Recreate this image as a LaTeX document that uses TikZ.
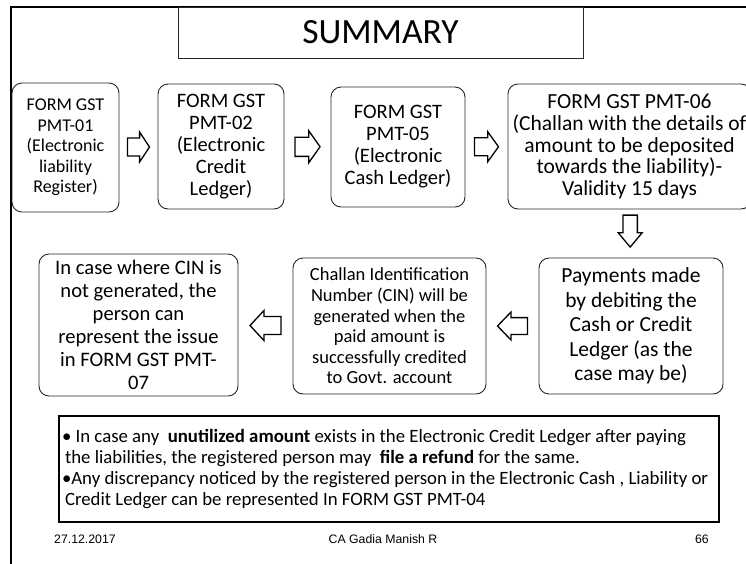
\documentclass[tikz,border=0pt]{standalone}
\usepackage{fontspec}
\setmainfont{Carlito}
\newfontfamily\footfont{Liberation Sans}
\usetikzlibrary{calc}
\tikzset{
  box/.style={draw=black!85, line width=0.9pt, rounded corners=10pt, align=center, inner sep=0pt},
  arrowline/.style={draw=black, line width=1.3pt, fill=white, line join=miter},
  footer/.style={inner sep=0pt, font=\footfont\fontsize{12.3}{14}\selectfont},
  pics/blockarrow/.style 2 args={code={
    \draw[arrowline] (-#1/2,-0.3*#2) -- (0.05*#1,-0.3*#2) -- (0.05*#1,-#2/2) -- (#1/2,0)
      -- (0.05*#1,#2/2) -- (0.05*#1,0.3*#2) -- (-#1/2,0.3*#2) -- cycle;
  }},
}
\begin{document}
\begin{tikzpicture}[x=1pt,y=-1pt]
\useasboundingbox (0,0) rectangle (746,563);
\fill[white] (0,0) rectangle (746,563);

% slide frame (left and top edges)
\draw[line width=2.4pt] (11,575) -- (11,7) -- (760,7);

% title
\node[draw=black!85, line width=0.9pt, minimum width=405pt, minimum height=51pt, inner sep=0pt,
      font=\fontsize{35.5}{40}\selectfont] (title) at (380.5,32.5) {SUMMARY};

% upper row of steps
\node[box, minimum width=107pt, minimum height=129pt, font=\fontsize{18}{20.5}\selectfont]
  (b1) at (65.5,147.5) {FORM GST\\PMT-01\\(Electronic\\liability\\Register)};
\node[box, minimum width=126pt, minimum height=125pt, font=\fontsize{20.5}{22}\selectfont]
  (b2) at (221,146.5) {FORM GST\\PMT-02\\(Electronic\\Credit\\Ledger)};
\node[box, minimum width=134pt, minimum height=120pt, font=\fontsize{20.5}{22}\selectfont]
  (b3) at (398,147) {FORM GST\\PMT-05\\(Electronic\\Cash Ledger)};
\node[box, minimum width=243pt, minimum height=125pt, font=\fontsize{21.5}{21.7}\selectfont]
  (b4) at (629.5,146.5) {FORM GST PMT-06\\(Challan with the details of\\amount to be deposited\\towards the liability)-\\Validity 15 days};

% lower row of steps
\node[box, minimum width=184pt, minimum height=136pt, font=\fontsize{21.5}{24.5}\selectfont]
  (b5) at (631,326) {Payments made\\by debiting the\\Cash or Credit\\Ledger (as the\\case may be)};
\node[box, minimum width=193pt, minimum height=136pt, font=\fontsize{18.5}{20.6}\selectfont]
  (b6) at (389.5,326) {Challan Identification\\Number (CIN) will be\\generated when the\\paid amount is\\successfully credited\\to Govt. account};
\node[box, minimum width=199pt, minimum height=142pt, font=\fontsize{20.6}{23}\selectfont]
  (b7) at (138.5,325) {In case where CIN is\\not generated, the\\person can\\represent the issue\\in FORM GST PMT-\\07};

% block arrows between the steps
\coordinate (a1) at ($(b1.east)!0.5!(b2.west)$);
\coordinate (a2) at ($(b2.east)!0.5!(b3.west)$);
\coordinate (a3) at ($(b3.east)!0.5!(b4.west)$);
\coordinate (a4) at ($(b4.south)!0.45!(b5.north)$);
\coordinate (a5) at ($(b5.west)!0.5!(b6.east)$);
\coordinate (a6) at ($(b6.west)!0.5!(b7.east)$);
\pic at (a1) {blockarrow={22}{30}};
\pic at (a2) {blockarrow={25}{32}};
\pic at (a3) {blockarrow={24}{30}};
\pic[rotate=-90] at (a4) {blockarrow={32}{24}};
\pic[rotate=180] at (a5) {blockarrow={30}{28}};
\pic[rotate=180] at (a6) {blockarrow={31}{30}};

% notes
\node[draw=black, line width=1.8pt, minimum width=660pt, minimum height=106pt, inner xsep=3pt, inner ysep=0pt,
      text width=654pt, align=flush left, font=\fontsize{18.8}{20.7}\selectfont] (note) at (389,469)
  {• In case any~ \textbf{unutilized amount} exists in the Electronic Credit Ledger after paying\\
   \hspace*{3pt}the liabilities, the registered person may~ \textbf{file a refund} for the same.\\
   •Any discrepancy noticed by the registered person in the Electronic Cash , Liability or\\
   \hspace*{3pt}Credit Ledger can be represented In FORM GST PMT-04};

% footer
\node[footer, anchor=west] (date) at (54,539) {27.12.2017};
\node[footer] (author) at (383,539) {CA Gadia Manish R};
\node[footer, anchor=east] (page) at (709,539) {66};
\end{tikzpicture}
\end{document}
